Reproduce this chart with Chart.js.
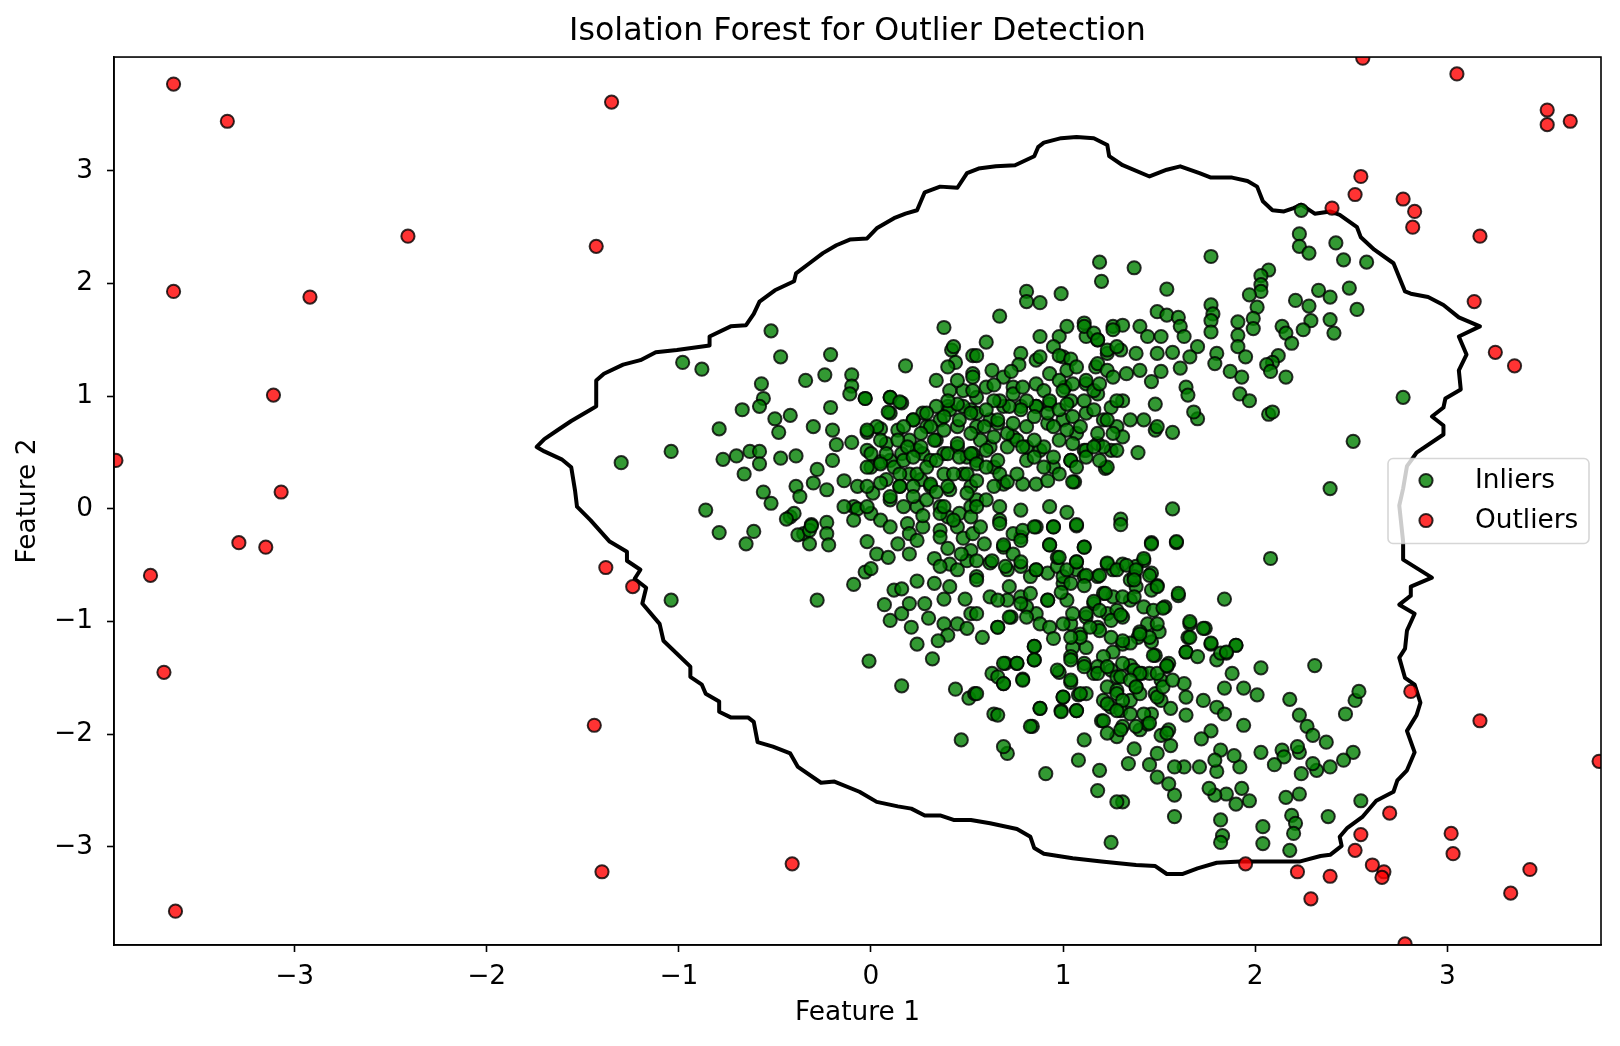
<!DOCTYPE html>
<html>
<head>
<meta charset="utf-8">
<script src="https://cdn.jsdelivr.net/npm/chart.js@4.4.0/dist/chart.umd.min.js"></script>
<style>
  html, body { margin: 0; padding: 0; background: #fff; }
  #wrap { width: 1620px; height: 1046px; }
</style>
</head>
<body>
<div id="wrap"><canvas id="chart" width="1620" height="1046"></canvas></div>
<script>
// points, [feature 1, feature 2]
const inliers = [
  [-0.52, 1.58], [-0.47, 1.35], [-0.21, 1.37], [0.38, 1.61], [-0.98, 1.30], [-0.88, 1.24], [0.18, 1.27], [-0.57, 1.11],
  [-0.34, 1.14], [-0.24, 1.19], [-0.10, 1.19], [-0.10, 1.09], [-0.11, 1.02], [-0.03, 0.98], [-0.56, 0.98], [-0.58, 0.91],
  [-0.67, 0.88], [-0.21, 0.90], [-0.42, 0.83], [-0.50, 0.80], [-0.48, 0.68], [-0.79, 0.71], [-0.30, 0.73], [-0.20, 0.70],
  [-1.04, 0.51], [-1.30, 0.41], [-0.77, 0.44], [-0.70, 0.47], [-0.63, 0.51], [-0.58, 0.51], [-0.58, 0.40], [-0.47, 0.45],
  [-0.39, 0.47], [-0.66, 0.31], [-0.18, 0.57], [-0.10, 0.59], [-0.20, 0.43], [-0.28, 0.35], [-0.56, 0.15], [-0.52, 0.05],
  [-0.86, -0.01], [-0.79, -0.21], [-0.61, -0.20], [-0.39, 0.20], [-0.37, 0.11], [-0.42, -0.07], [-0.30, 0.23], [-0.23, 0.17],
  [-0.14, 0.25], [-0.23, -0.12], [-0.31, -0.14], [-0.07, 0.20], [-0.09, 0.02], [0.01, 0.14], [0.10, 0.85], [0.16, 0.94],
  [0.10, 0.99], [-0.02, 0.68], [0.05, 0.71], [0.14, 0.70], [0.22, 0.79], [0.34, 1.14], [0.42, 1.41], [0.44, 1.30],
  [0.53, 1.20], [0.53, 1.36], [0.40, 0.91], [0.52, 0.88], [0.29, 0.73],
  [-0.02, 0.52], [0.00, 0.37], [0.05, 0.42], [0.08, 0.58], [0.10, 0.43], [0.16, 0.49], [0.20, 0.61], [0.24, 0.52],
  [0.27, 0.49], [0.31, 0.43], [0.34, 0.61], [0.38, 0.49], [0.45, 0.55], [0.50, 0.46], [0.55, 0.43], [0.20, 0.31],
  [0.26, 0.26], [0.31, 0.20], [0.38, 0.31], [0.41, 0.17], [0.48, 0.31], [0.52, 0.20], [0.15, 0.20], [0.10, 0.08],
  [0.17, 0.02], [0.24, 0.02], [0.29, 0.08], [0.36, 0.02], [0.40, -0.07], [0.46, -0.04], [0.52, 0.02], [0.55, 0.08],
  [0.00, -0.04], [0.05, -0.10], [0.10, -0.16], [0.19, -0.13], [0.27, -0.16], [0.36, -0.19], [0.45, -0.16], [0.52, -0.07],
  [-0.35, -0.22], [-0.23, -0.22], [0.08, 0.26], [0.27, 0.85], [0.36, 0.79], [0.45, 0.73], [0.48, 0.91], [0.55, 0.85],
  [0.41, 1.05], [0.48, 1.05], [0.55, 0.99],
  [1.19, 2.19], [1.20, 2.02], [1.37, 2.14], [1.77, 2.24], [1.54, 1.95], [2.23, 2.44], [2.23, 2.33], [2.28, 2.27],
  [2.42, 2.36], [2.46, 2.21], [2.07, 2.12], [2.03, 2.07], [2.03, 1.99], [2.03, 1.93], [1.97, 1.90], [2.01, 1.79],
  [1.99, 1.69], [1.99, 1.60], [1.91, 1.66], [1.91, 1.54], [1.91, 1.44], [1.95, 1.35], [1.93, 1.17], [1.92, 1.02],
  [1.97, 0.96], [2.21, 1.85], [2.28, 1.80], [2.33, 1.94], [2.39, 1.88], [2.49, 1.96], [2.53, 1.77], [2.29, 1.67],
  [2.39, 1.68], [2.41, 1.56], [2.25, 1.59], [2.14, 1.62], [2.16, 1.56], [2.19, 1.47], [2.12, 1.36], [2.09, 1.30],
  [2.06, 1.28], [2.08, 1.22], [2.16, 1.17], [2.07, 0.84], [2.09, 0.86], [2.51, 0.60], [2.39, 0.18], [1.57, 0.00],
  [1.57, 0.68], [1.48, 0.70], [1.39, 0.50], [1.22, 0.36], [1.06, 0.24], [0.67, 1.71], [0.81, 1.93], [0.81, 1.84],
  [0.88, 1.83], [0.99, 1.91], [1.77, 1.81], [1.78, 1.73], [1.77, 1.67], [1.49, 1.75], [1.54, 1.72], [1.60, 1.70],
  [1.61, 1.62], [1.63, 1.53], [1.77, 1.57], [1.80, 1.38], [1.79, 1.29], [1.87, 1.22], [1.70, 1.44], [1.66, 1.35],
  [1.61, 1.25], [1.64, 1.08], [1.65, 1.01], [1.70, 0.80], [1.68, 0.86], [1.51, 1.22], [1.46, 1.13], [1.48, 0.93],
  [1.57, 1.39], [1.40, 1.62], [1.44, 1.53], [1.51, 1.53],
  [0.60, 1.48], [0.55, 1.36], [0.63, 1.23], [0.53, 1.17], [0.60, 1.08], [0.69, 1.17], [0.74, 1.08], [0.78, 1.38],
  [0.77, 1.28], [0.86, 1.32], [0.88, 1.53], [0.86, 1.11], [0.93, 1.20], [0.98, 1.53], [1.02, 1.62], [1.00, 1.35],
  [1.01, 1.08], [1.11, 1.65], [1.12, 1.53], [1.18, 1.50], [1.17, 1.26], [1.12, 1.11], [1.23, 1.38], [1.26, 1.62],
  [1.31, 1.63], [1.30, 1.41], [1.33, 1.20], [1.38, 1.38], [1.40, 1.23], [1.49, 1.38], [1.18, 1.02], [1.25, 0.90],
  [1.31, 0.96], [1.35, 0.79], [1.28, 0.73], [1.21, 0.79], [1.12, 0.85], [1.04, 0.96], [0.93, 0.93], [0.86, 0.91],
  [0.78, 0.91], [0.69, 0.91], [0.62, 0.79], [0.55, 0.73], [0.66, 0.76], [0.74, 0.64], [0.81, 0.55], [0.88, 0.52],
  [0.95, 0.37], [1.04, 0.43], [1.11, 0.52], [1.18, 0.58], [1.25, 0.52], [1.31, 0.64], [1.42, 0.79], [1.49, 0.73],
  [0.92, 0.76], [1.00, 0.79], [1.07, 0.67], [0.53, 0.49], [0.62, 0.55], [0.64, 0.37], [0.69, 0.22], [0.79, 0.22],
  [0.86, 0.22], [0.60, 0.08], [0.67, 0.02], [0.78, -0.01], [0.93, 0.02], [1.02, -0.03], [1.30, -0.09],
  [-0.65, -0.31], [-1.04, -0.81], [-0.28, -0.81], [-0.09, -0.67], [-0.03, -0.56], [0.00, -0.53], [-0.40, -0.04], [-0.44, -0.09],
  [-0.38, -0.23], [-0.32, -0.19], [-0.31, -0.15], [-0.32, -0.31], [-0.22, -0.32], [-0.14, 0.02], [-0.07, 0.00], [-0.02, 0.02],
  [-0.09, -0.10], [-0.02, -0.29], [0.03, -0.40], [0.09, -0.43], [0.14, -0.31], [0.20, -0.40], [0.20, -0.22], [0.24, -0.28],
  [0.27, -0.06], [0.36, -0.04], [0.36, -0.25], [0.33, -0.44], [0.41, -0.49], [0.45, -0.54], [0.52, -0.37], [0.50, -0.46],
  [0.48, -0.26], [0.55, -0.60], [0.12, -0.72], [0.16, -0.71], [0.07, -0.85], [0.10, -0.99], [0.16, -0.93], [0.20, -0.84],
  [0.24, -0.64], [0.33, -0.66], [0.28, -0.84], [0.30, -0.97], [0.38, -0.80], [0.41, -0.69], [0.49, -0.80], [0.52, -0.93],
  [0.45, -1.02], [0.50, -1.06], [0.38, -1.02], [0.40, -1.12], [0.35, -1.17], [0.21, -1.05], [0.24, -1.20], [0.32, -1.33],
  [-0.01, -1.35], [0.16, -1.57], [0.44, -1.60], [0.51, -1.68], [0.54, -1.64], [0.47, -2.05], [0.38, 0.02], [0.43, -0.10],
  [0.53, -0.22], [0.47, -0.40], [0.40, -0.35], [0.36, -0.51],
  [1.30, -0.14], [1.59, -0.30], [1.46, -0.30], [2.08, -0.44], [1.84, -0.80], [1.60, -0.77], [2.31, -1.39], [2.18, -1.69],
  [2.47, -1.82], [2.03, -1.41], [2.01, -1.65], [1.94, -1.59], [1.94, -1.92], [1.88, -1.46], [1.90, -1.21], [1.85, -1.28],
  [1.80, -1.34], [1.77, -1.20], [1.74, -1.06], [1.66, -1.02], [1.65, -1.14], [1.64, -1.27], [1.64, -1.83], [1.55, -1.37],
  [1.46, -0.57], [1.49, -0.68], [1.53, -0.87], [1.42, -0.46], [1.46, -0.72], [2.23, -1.83], [2.27, -1.93], [2.30, -2.01],
  [2.37, -2.07], [2.51, -2.16], [2.52, -1.70], [2.54, -1.62], [2.46, -2.23], [2.39, -2.29], [2.32, -2.32], [2.30, -2.26],
  [2.24, -2.35], [2.23, -2.16], [2.22, -2.11], [2.14, -2.14], [2.15, -2.20], [2.10, -2.27], [2.03, -2.16], [2.23, -2.53],
  [2.16, -2.56], [2.19, -2.72], [2.21, -2.79], [2.20, -2.88], [2.38, -2.73], [2.04, -2.82], [2.04, -2.97], [2.18, -3.03],
  [1.82, -2.76], [1.83, -2.90], [1.82, -2.96], [1.58, -2.73], [1.25, -2.96], [1.97, -2.59], [1.93, -2.48], [1.90, -2.62],
  [1.85, -2.53], [1.79, -2.54], [1.76, -2.48], [1.92, -2.29], [1.89, -2.19], [1.82, -2.14], [1.80, -2.33], [1.79, -2.23],
  [1.77, -1.97], [1.72, -2.04], [1.71, -2.29], [1.63, -2.29], [1.58, -2.29], [1.58, -2.54], [1.55, -2.44], [1.49, -2.38],
  [1.45, -2.27], [1.49, -2.17], [1.56, -2.10], [1.51, -2.01], [1.55, -1.96], [1.46, -1.82], [1.40, -1.96], [1.37, -2.13],
  [1.34, -2.26], [1.28, -2.02], [1.31, -2.60], [1.28, -2.60], [1.18, -2.50], [1.19, -2.32], [1.08, -2.23], [1.11, -2.05],
  [0.91, -2.35], [0.84, -1.93], [0.88, -1.77], [0.71, -2.17], [0.69, -2.11], [0.64, -1.82], [0.55, -1.64], [0.79, -1.51],
  [0.69, -1.55], [0.63, -1.46], [0.70, -1.37], [0.76, -1.37], [0.85, -1.22], [0.85, -1.34], [0.98, -1.45], [1.00, -1.67],
  [0.99, -1.79], [1.04, -1.54], [1.08, -1.65], [1.07, -1.79], [1.12, -1.64], [1.20, -1.88], [1.25, -1.76], [1.30, -1.79],
  [1.31, -1.93], [1.21, -1.70], [1.23, -1.58], [1.28, -1.61], [1.35, -1.70], [1.38, -1.58], [1.41, -1.46], [1.45, -1.46],
  [1.51, -1.52], [1.51, -1.70], [1.56, -1.77], [1.48, -1.64], [1.44, -1.91], [1.54, -1.99], [1.40, -1.64], [1.35, -1.39],
  [1.48, -1.30], [1.54, -1.40], [1.63, -1.55], [1.64, -1.67], [1.73, -1.70], [1.80, -1.76], [1.84, -1.59], [1.84, -1.82],
  [1.46, -1.18], [1.39, -1.14], [1.50, -1.09], [1.44, -1.02], [1.40, -1.09], [1.31, -1.20], [1.26, -1.27], [1.21, -1.31],
  [1.16, -1.46], [1.11, -1.37], [1.18, -1.40], [1.25, -1.43], [1.28, -1.49], [1.31, -1.37], [1.12, -1.23], [1.05, -1.23],
  [1.04, -1.31], [1.09, -1.11], [1.18, -1.05], [1.23, -0.93], [1.28, -0.90], [1.31, -0.96], [1.35, -0.81], [1.38, -0.69],
  [1.35, -0.63], [1.26, -0.78], [1.21, -0.75], [1.16, -0.84], [1.12, -0.96], [1.04, -1.02], [1.02, -0.81], [1.00, -0.66],
  [1.07, -0.54], [1.11, -0.60], [1.18, -0.60], [1.23, -0.49], [1.26, -0.54], [1.31, -0.49], [1.38, -0.51], [1.37, -0.60],
  [0.92, -0.81], [0.86, -0.93], [0.81, -0.87], [0.73, -0.96], [0.66, -1.05], [0.58, -1.14], [0.55, -0.93], [0.62, -0.78],
  [0.71, -0.81], [0.78, -0.78], [0.86, -0.54], [0.92, -0.57], [0.97, -0.51], [1.00, -0.60], [0.83, -0.60], [0.78, -0.51],
  [0.71, -0.54], [0.62, -0.48], [0.55, -0.63], [0.55, -0.46], [0.69, -0.34], [0.78, -0.25], [0.86, -0.16], [1.07, -0.15],
  [0.95, -0.16], [0.93, -0.32], [0.97, -0.43], [1.07, -0.47], [1.11, -0.34], [0.57, -0.16], [0.59, -0.31], [0.67, -0.10],
  [0.74, -0.22], [0.55, 0.02], [2.55, -2.59], [2.77, 0.99], [2.24, 2.65], [2.58, 2.19],
  // denser core of the upper band
  [0.43, 1.44], [0.40, 1.26], [0.45, 1.14], [0.64, 1.10], [0.53, 1.05], [0.73, 1.22], [0.88, 1.35], [0.95, 1.44],
  [0.98, 1.36], [1.04, 1.33], [1.02, 1.23], [1.07, 1.26], [0.98, 1.14], [1.05, 1.11], [1.00, 1.05], [1.12, 1.14],
  [1.16, 1.05], [1.11, 0.96], [1.11, 1.62], [1.16, 1.56], [1.18, 1.50], [1.23, 1.41], [1.18, 1.29], [1.23, 1.23],
  [1.26, 1.59], [1.28, 1.44], [1.26, 1.17], [1.19, 1.11], [1.16, 0.88], [1.23, 0.79], [1.28, 0.96], [1.18, 0.67],
  [1.26, 0.67], [1.21, 0.55], [1.23, 0.37], [1.28, 0.52], [0.90, 1.05], [0.93, 0.96], [0.86, 0.91], [0.81, 0.96],
  [0.92, 0.85], [0.98, 0.88], [1.02, 0.93], [1.05, 0.82], [0.95, 0.73], [1.02, 0.70], [1.09, 0.73], [0.98, 0.61],
  [1.05, 0.58], [1.12, 0.52], [0.90, 0.55], [0.85, 0.61], [0.81, 0.73], [0.85, 0.82], [0.78, 0.88], [0.72, 0.91],
  [0.67, 0.96], [0.74, 1.02], [0.79, 1.08], [0.64, 0.96], [0.60, 0.88], [0.66, 0.79], [0.59, 0.73], [0.64, 0.64],
  [0.57, 0.61], [0.52, 0.67], [0.46, 0.79], [0.52, 0.85], [0.41, 0.88], [0.38, 0.82], [0.45, 0.93], [0.40, 0.96],
  [0.34, 0.91], [0.29, 0.85], [0.31, 0.73], [0.26, 0.67], [0.22, 0.79], [0.17, 0.73], [0.14, 0.61], [0.19, 0.55],
  [0.26, 0.55], [0.33, 0.61], [0.38, 0.70], [0.45, 0.58], [0.40, 0.49], [0.46, 0.46], [0.52, 0.49], [0.55, 0.40],
  [0.60, 0.52], [0.66, 0.43], [0.71, 0.55], [0.76, 0.61], [0.71, 0.67], [0.74, 0.76], [0.10, 0.99], [0.15, 0.95],
  [0.09, 0.86], [0.03, 0.73], [-0.03, 0.98], [-0.02, 0.70], [0.05, 0.61], [0.08, 0.49], [0.00, 0.49], [-0.02, 0.37],
  [0.05, 0.40], [0.12, 0.37], [0.17, 0.43], [0.22, 0.46], [0.15, 0.31], [0.24, 0.31], [0.29, 0.37], [0.34, 0.43],
  [0.31, 0.22], [0.22, 0.20], [0.15, 0.20], [0.05, 0.23], [-0.02, 0.20], [0.10, 0.11], [0.22, 0.11], [0.34, 0.15],
  [0.40, 0.20], [0.43, 0.31], [0.50, 0.31], [0.55, 0.25], [0.50, 0.14], [0.60, 0.37], [0.67, 0.31], [0.64, 0.20],
  [0.71, 0.24], [0.76, 0.31], [0.81, 0.43], [0.79, 0.55], [0.85, 0.46], [0.90, 0.37], [0.95, 0.46], [0.92, 0.25],
  [0.98, 0.31], [1.04, 0.43], [1.07, 0.37], [1.05, 0.24], [1.12, 0.46], [1.19, 0.43], [1.16, 0.55],
  // denser core of the lower band
  [0.67, -0.13], [0.79, -0.19], [0.85, -0.16], [0.95, -0.16], [1.07, -0.14], [0.69, -0.32], [0.78, -0.28], [0.74, -0.40],
  [0.63, -0.46], [0.70, -0.51], [0.78, -0.47], [0.86, -0.54], [0.93, -0.32], [0.98, -0.43], [1.02, -0.54], [1.07, -0.47],
  [1.11, -0.34], [1.12, -0.59], [1.19, -0.59], [1.23, -0.48], [1.28, -0.54], [1.33, -0.50], [1.38, -0.54], [1.42, -0.44],
  [1.46, -0.31], [1.59, -0.29], [1.45, -0.59], [1.37, -0.63], [1.49, -0.69], [1.31, -0.78], [1.22, -0.75], [1.16, -0.82],
  [1.11, -0.68], [1.04, -0.66], [0.99, -0.74], [0.92, -0.81], [0.83, -0.75], [0.78, -0.84], [0.72, -0.69], [0.66, -0.81],
  [0.72, -0.96], [0.66, -1.05], [0.81, -0.96], [0.88, -1.02], [0.93, -1.05], [1.00, -1.02], [1.05, -0.93], [1.12, -0.93],
  [1.19, -0.90], [1.25, -0.99], [1.30, -0.94], [1.37, -0.78], [1.42, -0.87], [1.47, -0.90], [1.52, -0.88], [1.49, -1.02],
  [1.45, -1.14], [1.40, -1.11], [1.35, -1.19], [1.31, -1.17], [1.25, -1.14], [1.19, -1.08], [1.14, -1.05], [1.09, -1.14],
  [1.04, -1.14], [0.95, -1.15], [0.85, -1.22], [0.85, -1.34], [0.76, -1.37], [0.69, -1.37], [0.66, -1.49], [0.69, -1.55],
  [0.79, -1.52], [0.97, -1.43], [1.04, -1.34], [1.11, -1.40], [1.04, -1.52], [1.09, -1.64], [1.00, -1.67], [1.07, -1.79],
  [0.99, -1.80], [0.88, -1.77], [0.83, -1.93], [0.66, -1.83], [1.18, -1.46], [1.23, -1.40], [1.30, -1.49], [1.37, -1.43],
  [1.40, -1.46], [1.35, -1.52], [1.38, -1.58], [1.28, -1.64], [1.31, -1.70], [1.23, -1.73], [1.21, -1.88], [1.28, -1.79],
  [1.35, -1.82], [1.42, -1.82], [1.45, -1.90], [1.38, -1.93], [1.30, -1.96], [1.23, -1.99], [1.49, -1.67], [1.52, -1.58],
  [1.57, -1.52], [1.49, -1.46], [1.47, -1.30], [1.54, -1.39], [1.60, -0.75], [1.66, -1.00], [1.73, -1.06], [1.66, -1.14],
  [1.64, -1.27], [1.77, -1.19], [1.82, -1.28], [1.90, -1.21], [1.85, -1.27], [1.70, -1.31]
]

const outliers = [
  [-3.93, 0.43], [-3.63, 3.77], [-3.35, 3.44], [-2.41, 2.42], [-2.92, 1.88], [-3.63, 1.93], [-3.11, 1.01], [-3.07, 0.15],
  [-3.29, -0.30], [-3.15, -0.34], [-3.75, -0.59], [-3.68, -1.45], [-3.62, -3.57], [-1.35, 3.61], [-1.43, 2.33], [-1.38, -0.52],
  [-1.24, -0.69], [-1.44, -1.92], [-1.40, -3.22], [-0.41, -3.15], [2.56, 4.00], [3.05, 3.86], [3.52, 3.54], [3.52, 3.41],
  [3.64, 3.44], [2.55, 2.95], [2.52, 2.79], [2.40, 2.67], [2.77, 2.75], [2.83, 2.64], [2.82, 2.50], [3.17, 2.42],
  [3.14, 1.84], [3.25, 1.39], [3.35, 1.27], [2.81, -1.62], [3.17, -1.88], [3.79, -2.24], [2.70, -2.70], [3.02, -2.88],
  [3.03, -3.06], [2.55, -2.89], [2.52, -3.03], [2.61, -3.16], [2.67, -3.22], [2.66, -3.27], [1.95, -3.15], [2.22, -3.22],
  [2.39, -3.26], [2.29, -3.46], [3.43, -3.20], [3.33, -3.41], [2.78, -3.86]
]

// decision boundary, traced clockwise from the left tip
const boundary = [
  [-1.74, 0.55], [-1.70, 0.62], [-1.63, 0.70], [-1.56, 0.78], [-1.50, 0.84], [-1.46, 0.88], [-1.43, 0.91], [-1.43, 1.14],
  [-1.39, 1.20], [-1.29, 1.28], [-1.20, 1.32], [-1.12, 1.39], [-1.01, 1.41], [-0.84, 1.45], [-0.84, 1.53], [-0.73, 1.62],
  [-0.65, 1.63], [-0.61, 1.73], [-0.58, 1.84], [-0.50, 1.94], [-0.40, 2.02], [-0.39, 2.09], [-0.32, 2.18], [-0.25, 2.27],
  [-0.18, 2.34], [-0.11, 2.39], [-0.02, 2.40], [0.03, 2.49], [0.12, 2.58], [0.18, 2.62], [0.24, 2.65], [0.28, 2.81],
  [0.36, 2.86], [0.45, 2.85], [0.50, 2.98], [0.56, 3.02], [0.65, 3.04], [0.75, 3.05], [0.85, 3.13], [0.87, 3.21],
  [0.90, 3.25], [0.99, 3.29], [1.07, 3.30], [1.16, 3.29], [1.23, 3.23], [1.24, 3.13], [1.31, 3.05], [1.45, 2.95],
  [1.54, 3.01], [1.61, 3.04], [1.71, 2.98], [1.77, 2.94], [1.88, 2.94], [1.96, 2.91], [2.01, 2.86], [2.04, 2.73],
  [2.09, 2.65], [2.15, 2.64], [2.20, 2.67], [2.24, 2.70], [2.31, 2.62], [2.39, 2.64], [2.44, 2.61], [2.53, 2.50],
  [2.55, 2.41], [2.62, 2.30], [2.72, 2.18], [2.78, 1.93], [2.81, 1.91], [2.90, 1.88], [2.98, 1.81], [3.06, 1.70],
  [3.17, 1.62], [3.06, 1.53], [3.10, 1.37], [3.06, 1.23], [3.07, 1.06], [2.99, 0.98], [2.98, 0.90], [2.92, 0.82],
  [2.98, 0.74], [2.98, 0.66], [2.84, 0.50], [2.82, 0.45], [2.79, 0.38], [2.77, 0.18], [2.75, 0.03], [2.77, -0.29],
  [2.77, -0.45], [2.92, -0.61], [2.81, -0.69], [2.81, -0.77], [2.75, -0.85], [2.83, -0.93], [2.79, -1.08], [2.78, -1.24],
  [2.75, -1.32], [2.78, -1.50], [2.83, -1.56], [2.86, -1.72], [2.84, -1.83], [2.79, -1.97], [2.83, -2.16], [2.79, -2.32],
  [2.74, -2.41], [2.72, -2.51], [2.63, -2.59], [2.56, -2.73], [2.48, -2.83], [2.44, -2.91], [2.45, -2.99], [2.39, -3.07],
  [2.34, -3.08], [2.23, -3.13], [1.92, -3.13], [1.80, -3.14], [1.70, -3.19], [1.62, -3.24], [1.54, -3.24], [1.48, -3.17],
  [1.38, -3.16], [1.20, -3.13], [1.05, -3.10], [0.90, -3.06], [0.85, -3.01], [0.83, -2.91], [0.76, -2.84], [0.62, -2.79],
  [0.52, -2.76], [0.43, -2.76], [0.36, -2.72], [0.28, -2.72], [0.21, -2.66], [0.14, -2.64], [0.03, -2.60], [-0.06, -2.51],
  [-0.19, -2.42], [-0.26, -2.43], [-0.38, -2.29], [-0.42, -2.17], [-0.51, -2.11], [-0.59, -2.07], [-0.61, -1.89], [-0.64, -1.85],
  [-0.73, -1.85], [-0.79, -1.80], [-0.79, -1.71], [-0.86, -1.64], [-0.88, -1.56], [-0.94, -1.49], [-0.94, -1.40], [-1.08, -1.17],
  [-1.10, -1.02], [-1.19, -0.84], [-1.17, -0.70], [-1.23, -0.62], [-1.20, -0.54], [-1.27, -0.46], [-1.27, -0.38], [-1.36, -0.29],
  [-1.46, -0.10], [-1.53, 0.02], [-1.54, 0.16], [-1.56, 0.37], [-1.61, 0.44], [-1.70, 0.51]
]

const xTicks = [-3, -2, -1, 0, 1, 2, 3]
const yTicks = [-3, -2, -1, 0, 1, 2, 3]
const xLimits = [-3.94, 3.80]
const yLimits = [-3.87, 4.01]
const legendItems = ['Inliers', 'Outliers']

const FONT = 'DejaVu Sans'
Chart.defaults.font.family = FONT
Chart.defaults.color = '#000'

const toPoints = list => list.map(([x, y]) => ({ x, y }))
const minusLabel = value => value < 0 ? '\u2212' + Math.abs(value) : String(value)

const frame = {
  id: 'frame',
  afterDatasetsDraw (chart) {
    const { ctx, chartArea: a } = chart
    ctx.save()
    ctx.strokeStyle = '#000'
    ctx.lineWidth = 1.6
    ctx.strokeRect(a.left, a.top, a.right - a.left, a.bottom - a.top)
    ctx.restore()
  }
}

const legendBox = {
  id: 'legendBox',
  afterDraw (chart) {
    const { ctx, chartArea: a } = chart
    const w = 201
    const h = 85
    const left = a.right - 12 - w
    const top = (a.top + a.bottom) / 2 - h / 2
    ctx.save()
    ctx.beginPath()
    if (ctx.roundRect) ctx.roundRect(left, top, w, h, 5)
    else ctx.rect(left, top, w, h)
    ctx.fillStyle = 'rgba(255,255,255,0.8)'
    ctx.fill()
    ctx.strokeStyle = 'rgba(204,204,204,0.8)'
    ctx.lineWidth = 1.6
    ctx.stroke()
    legendItems.forEach((name, i) => {
      const ds = chart.data.datasets.find(d => d.label === name)
      const y = top + 22 + i * 40
      ctx.beginPath()
      ctx.arc(left + 38, y, 6.6, 0, Math.PI * 2)
      ctx.fillStyle = ds.pointBackgroundColor
      ctx.fill()
      ctx.lineWidth = 2
      ctx.strokeStyle = ds.pointBorderColor
      ctx.stroke()
      ctx.fillStyle = '#000'
      ctx.font = '26.4px "' + FONT + '"'
      ctx.textBaseline = 'middle'
      ctx.textAlign = 'left'
      ctx.fillText(name, left + 87, y + 1)
    })
    ctx.restore()
  }
}

const pointStyle = (fill) => ({
  pointBackgroundColor: fill,
  pointBorderColor: 'rgba(0,0,0,0.8)',
  pointBorderWidth: 2,
  pointRadius: 6.6,
  pointHoverRadius: 6.6,
  showLine: false,
  clip: 0
})

const data = {
  datasets: [
    { label: 'Outliers', data: toPoints(outliers), order: 1, ...pointStyle('rgba(255,0,0,0.8)') },
    { label: 'Inliers', data: toPoints(inliers), order: 2, ...pointStyle('rgba(0,128,0,0.8)') },
    {
      label: 'boundary',
      data: toPoints([...boundary, boundary[0]]),
      order: 3,
      showLine: true,
      pointRadius: 0,
      borderColor: '#000',
      borderWidth: 4,
      borderJoinStyle: 'round',
      borderCapStyle: 'round',
      fill: false,
      tension: 0,
      clip: 0
    }
  ]
}

const tickFont = { size: 26.4, family: FONT }
const gridStyle = { drawOnChartArea: false, drawTicks: true, tickLength: 7, tickWidth: 1.6, tickColor: '#000' }

const options = {
  responsive: false,
  devicePixelRatio: 1,
  animation: false,
  events: [],
  layout: { padding: { left: 0, right: 19, top: 0, bottom: 0 } },
  plugins: {
    legend: { display: false },
    tooltip: { enabled: false },
    title: {
      display: true,
      fullSize: false,
      text: 'Isolation Forest for Outlier Detection',
      color: '#000',
      font: { size: 31.7, weight: 'normal', family: FONT },
      padding: { top: 13, bottom: 6 }
    }
  },
  scales: {
    x: {
      type: 'linear',
      min: xLimits[0],
      max: xLimits[1],
      afterBuildTicks: scale => { scale.ticks = xTicks.map(value => ({ value })) },
      afterFit: scale => { scale.height = 101 },
      ticks: { callback: minusLabel, font: tickFont, color: '#000', padding: 9, maxRotation: 0, autoSkip: false },
      grid: gridStyle,
      border: { display: true, color: '#000', width: 1.6 },
      title: { display: true, text: 'Feature 1', color: '#000', font: tickFont, padding: { top: 0, bottom: 16.7 } }
    },
    y: {
      type: 'linear',
      min: yLimits[0],
      max: yLimits[1],
      afterBuildTicks: scale => { scale.ticks = yTicks.map(value => ({ value })) },
      afterFit: scale => { scale.width = 114 },
      ticks: { callback: minusLabel, font: tickFont, color: '#000', padding: 14, autoSkip: false },
      grid: gridStyle,
      border: { display: true, color: '#000', width: 1.6 },
      title: { display: true, text: 'Feature 2', color: '#000', font: tickFont, padding: { top: 12, bottom: 0 } }
    }
  }
}

new Chart(document.querySelector('#chart'), {
  type: 'scatter',
  data,
  options,
  plugins: [frame, legendBox]
})
</script>
</body>
</html>
